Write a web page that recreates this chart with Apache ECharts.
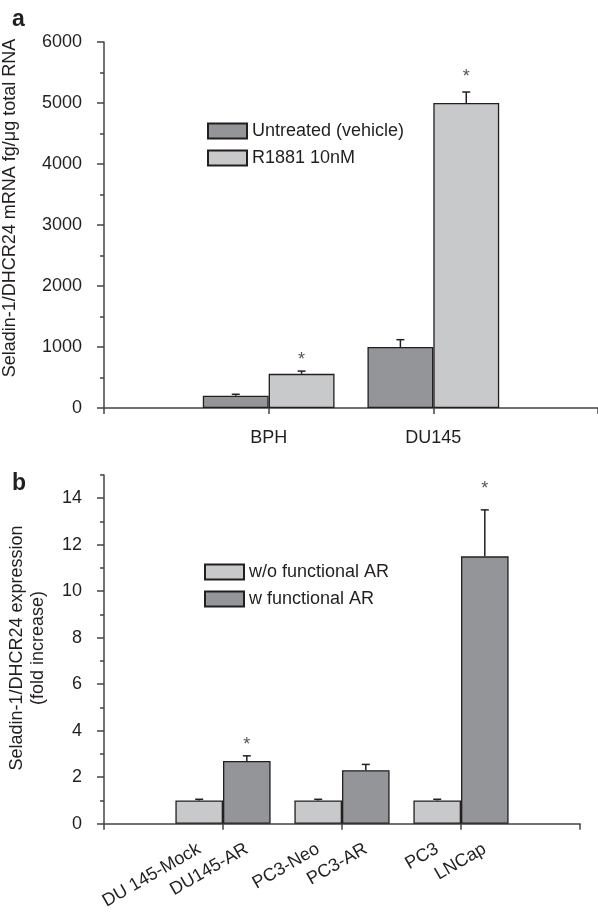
<!DOCTYPE html>
<html><head><meta charset="utf-8">
<script src="https://cdn.jsdelivr.net/npm/echarts@6/dist/echarts.min.js"></script>
<style>html,body{margin:0;padding:0;background:#fff}#c{width:598px;height:912px}</style>
</head><body><div id="c"></div>
<script>
// ---------- Panel a data ----------
const catsA = ['BPH', 'DU145'];
const untreatedA = [200, 1000];
const untreatedSdA = [25, 120];
const r1881A = [560, 5000];
const r1881SdA = [45, 180];
const starR1881A = [790, 5430];          // asterisk heights (data units)
const yTicksA = [0, 1000, 2000, 3000, 4000, 5000, 6000];

// ---------- Panel b data ----------
const catsB = ['DU 145-Mock', 'DU145-AR', 'PC3-Neo', 'PC3-AR', 'PC3', 'LNCap'];
const withoutAR = [1.0, 1.0, 1.0];
const withoutSd = [0.05, 0.05, 0.05];
const withAR = [2.7, 2.3, 11.5];
const withSd = [0.22, 0.25, 2.0];
const starWithAR = [3.4, null, 14.4];
const yTicksB = [0, 2, 4, 6, 8, 10, 12, 14];

const DARK = '#939598', LIGHT = '#c8c9cb', EDGE = '#231f20', TXT = '#231f20';
const FONT = '"Liberation Sans", Arial, sans-serif';
const OFF = 0.2;

function errRender(params, api) {
  const x = api.value(0), base = api.value(1), top = api.value(2);
  const p1 = api.coord([x, base]), p2 = api.coord([x, top]);
  const hw = 4;
  return { type: 'group', children: [
    { type: 'line', shape: { x1: p1[0], y1: p1[1], x2: p2[0], y2: p2[1] }, style: { stroke: EDGE, lineWidth: 1.5 } },
    { type: 'line', shape: { x1: p2[0] - hw, y1: p2[1], x2: p2[0] + hw, y2: p2[1] }, style: { stroke: EDGE, lineWidth: 1.5 } }
  ]};
}
function starRender(params, api) {
  const p = api.coord([api.value(0), api.value(1)]);
  return { type: 'text', x: p[0], y: p[1], style: { text: '*', fill: '#555', font: '18px ' + FONT, align: 'center', verticalAlign: 'middle' } };
}
const axisLineStyle = { color: '#444', width: 1.5 };

const barsA1 = untreatedA.map((v, i) => [i + 1, v]);
const barsA2 = r1881A.map((v, i) => [i + 1, v]);
const errA = untreatedA.map((v, i) => [i + 1 - OFF, v, v + untreatedSdA[i]])
  .concat(r1881A.map((v, i) => [i + 1 + OFF, v, v + r1881SdA[i]]));
const starsA = starR1881A.map((v, i) => [i + 1 + OFF, v]).filter(d => d[1] != null);

const barsB1 = withoutAR.map((v, i) => [i + 1, v]);
const barsB2 = withAR.map((v, i) => [i + 1, v]);
const errB = withoutAR.map((v, i) => [i + 1 - OFF, v, v + withoutSd[i]])
  .concat(withAR.map((v, i) => [i + 1 + OFF, v, v + withSd[i]]));
const starsB = starWithAR.map((v, i) => [i + 1 + OFF, v]).filter(d => d[1] != null);
const labelPosB = [];
withoutAR.forEach((v, i) => { labelPosB.push(+(i + 1 - OFF).toFixed(2)); labelPosB.push(+(i + 1 + OFF).toFixed(2)); });

const chart = echarts.init(document.getElementById('c'), null, { renderer: 'canvas' });
chart.setOption({
  animation: false,
  textStyle: { fontFamily: FONT, color: TXT },
  grid: [
    { left: 104, top: 42, width: 495, height: 366 },
    { left: 104, top: 475, width: 476, height: 352 }
  ],
  legend: [
    { data: ['Untreated (vehicle)', 'R1881 10nM'], orient: 'vertical', left: 202, top: 117, itemWidth: 39, itemHeight: 15, itemGap: 9, icon: 'rect', selectedMode: false, textStyle: { fontSize: 18, color: TXT, fontFamily: FONT } },
    { data: ['w/o functional AR', 'w functional AR'], orient: 'vertical', left: 199, top: 558, itemWidth: 39, itemHeight: 15, itemGap: 9, icon: 'rect', selectedMode: false, textStyle: { fontSize: 18, color: TXT, fontFamily: FONT } }
  ],
  xAxis: [
    { type: 'value', gridIndex: 0, min: 0, max: 3, interval: 1, splitLine: { show: false },
      axisLine: { lineStyle: axisLineStyle }, axisTick: { length: 6, lineStyle: axisLineStyle },
      axisLabel: { customValues: [1, 2], formatter: v => catsA[Math.round(v) - 1] || '', fontSize: 18, color: TXT, margin: 21 } },
    { type: 'value', gridIndex: 1, min: 0, max: 4, interval: 1, splitLine: { show: false },
      axisLine: { lineStyle: axisLineStyle }, axisTick: { length: 6, lineStyle: axisLineStyle },
      axisLabel: { customValues: labelPosB, rotate: 30, fontSize: 18, color: TXT, margin: 24,
        formatter: v => { const g = Math.round(v); return catsB[(g - 1) * 2 + (v < g ? 0 : 1)] || ''; } } }
  ],
  yAxis: [
    { type: 'value', gridIndex: 0, min: 0, max: 6000, interval: 1000, splitLine: { show: false },
      axisLine: { show: true, lineStyle: axisLineStyle }, axisTick: { show: true, length: 7, lineStyle: axisLineStyle },
      minorTick: { show: true, splitNumber: 2, length: 4, lineStyle: axisLineStyle },
      axisLabel: { customValues: yTicksA, formatter: v => String(v), fontSize: 18, color: TXT, margin: 22 } },
    { type: 'value', gridIndex: 1, min: 0, max: 15, interval: 1, splitLine: { show: false },
      axisLine: { show: true, lineStyle: axisLineStyle }, axisTick: { show: true, length: 4, lineStyle: axisLineStyle },
      axisLabel: { customValues: yTicksB, formatter: v => String(v), fontSize: 18, color: TXT, margin: 22 } },
    { type: 'value', gridIndex: 1, position: 'left', offset: 0, min: 0, max: 15, interval: 1, splitLine: { show: false },
      axisLine: { show: false }, axisTick: { show: true, customValues: yTicksB, length: 7, lineStyle: axisLineStyle },
      axisLabel: { show: false } }
  ],
  series: [
    { name: 'Untreated (vehicle)', type: 'bar', xAxisIndex: 0, yAxisIndex: 0, data: barsA1, barWidth: '40%', barGap: '0%',
      itemStyle: { color: DARK, borderColor: EDGE, borderWidth: 1.3 } },
    { name: 'R1881 10nM', type: 'bar', xAxisIndex: 0, yAxisIndex: 0, data: barsA2, barWidth: '40%', barGap: '0%',
      itemStyle: { color: LIGHT, borderColor: EDGE, borderWidth: 1.3 } },
    { type: 'custom', xAxisIndex: 0, yAxisIndex: 0, data: errA, renderItem: errRender, encode: { x: 0, y: [1, 2] }, z: 5, silent: true },
    { type: 'custom', xAxisIndex: 0, yAxisIndex: 0, data: starsA, renderItem: starRender, encode: { x: 0, y: 1 }, z: 5, silent: true },

    { name: 'w/o functional AR', type: 'bar', xAxisIndex: 1, yAxisIndex: 1, data: barsB1, barWidth: '40%', barGap: '0%',
      itemStyle: { color: LIGHT, borderColor: EDGE, borderWidth: 1.3 } },
    { name: 'w functional AR', type: 'bar', xAxisIndex: 1, yAxisIndex: 1, data: barsB2, barWidth: '40%', barGap: '0%',
      itemStyle: { color: DARK, borderColor: EDGE, borderWidth: 1.3 } },
    { type: 'custom', xAxisIndex: 1, yAxisIndex: 1, data: errB, renderItem: errRender, encode: { x: 0, y: [1, 2] }, z: 5, silent: true },
    { type: 'custom', xAxisIndex: 1, yAxisIndex: 1, data: starsB, renderItem: starRender, encode: { x: 0, y: 1 }, z: 5, silent: true }
  ],
  graphic: [
    { type: 'text', left: 12, top: 8, style: { text: 'a', font: 'bold 23px ' + FONT, fill: TXT } },
    { type: 'text', left: 12, top: 472, style: { text: 'b', font: 'bold 23px ' + FONT, fill: TXT } },
    { type: 'text', x: 10, y: 208, rotation: Math.PI / 2, style: { text: 'Seladin-1/DHCR24 mRNA fg/μg total RNA', font: '18px ' + FONT, fill: TXT, align: 'center', verticalAlign: 'middle' } },
    { type: 'text', x: 28, y: 648, rotation: Math.PI / 2, style: { text: 'Seladin-1/DHCR24 expression\n(fold increase)', font: '18px ' + FONT, lineHeight: 21, fill: TXT, align: 'center', verticalAlign: 'middle' } }
  ]
});
</script></body></html>
